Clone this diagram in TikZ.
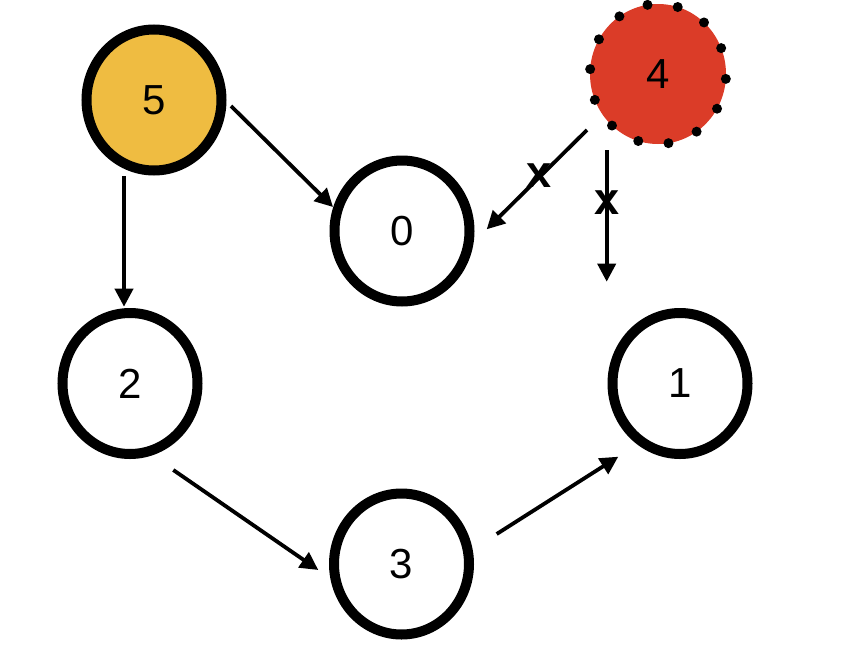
\documentclass[tikz,border=0pt]{standalone}
\usepackage{fontspec}
\setmainfont{Liberation Sans}
\usetikzlibrary{arrows.meta,shapes.geometric}
\definecolor{goldfill}{HTML}{EFBC41}
\definecolor{redfill}{HTML}{DB3C28}
\begin{document}
\begin{tikzpicture}[x=1pt,y=-1pt,
  vert/.style={ellipse,draw=black,line width=10pt,minimum width=135pt,minimum height=141pt,inner sep=0pt,font=\fontsize{42}{42}\selectfont},
  conn/.style={line width=3.8pt,-{Triangle[length=18pt,width=18pt]}},
  crossmark/.style={font=\bfseries\fontsize{45}{45}\selectfont,inner sep=0pt}]
\useasboundingbox (0,0) rectangle (868,648);
\node[vert,fill=goldfill] (n5) at (154,100) {5};
\node[vert] (n0) at (402,231) {0};
\node[vert] (n2) at (130,383.5) {2};
\node[vert] (n1) at (680,383.5) {1};
\node[vert] (n3) at (401.5,564) {3};
\node[ellipse,fill=redfill,minimum width=136pt,minimum height=140pt,inner sep=0pt,font=\fontsize{42}{42}\selectfont] (n4) at (658,74) {4};
\foreach \k in {0,...,13} {
  \pgfmathsetmacro\ang{-4+\k*360/14}
  \fill ([shift={({68*cos(\ang)},{-70*sin(\ang)})}]n4.center) circle (5pt);
}
\draw[conn] ([shift={(77,6)}]n5.center) -- ([shift={(-69,-24)}]n0.center);
\draw[conn] ([shift={(-30,76)}]n5.center) -- ([shift={(-6,-76.8)}]n2.center);
\draw[conn] ([shift={(43.3,86.5)}]n2.center) -- ([shift={(-83.2,6)}]n3.center);
\draw[conn] ([shift={(95.2,-30)}]n3.center) -- ([shift={(-61.7,73.2)}]n1.center);
\draw[conn] ([shift={(-71,56)}]n4.center) -- ([shift={(84.7,-1.7)}]n0.center);
\draw[conn] ([shift={(-51.3,76)}]n4.center) -- ([shift={(-73.3,-101.8)}]n1.center);
\node[crossmark] (x1) at (539.5,175.3) {x};
\node[crossmark] (x2) at (606.7,202.5) {x};
\end{tikzpicture}
\end{document}
